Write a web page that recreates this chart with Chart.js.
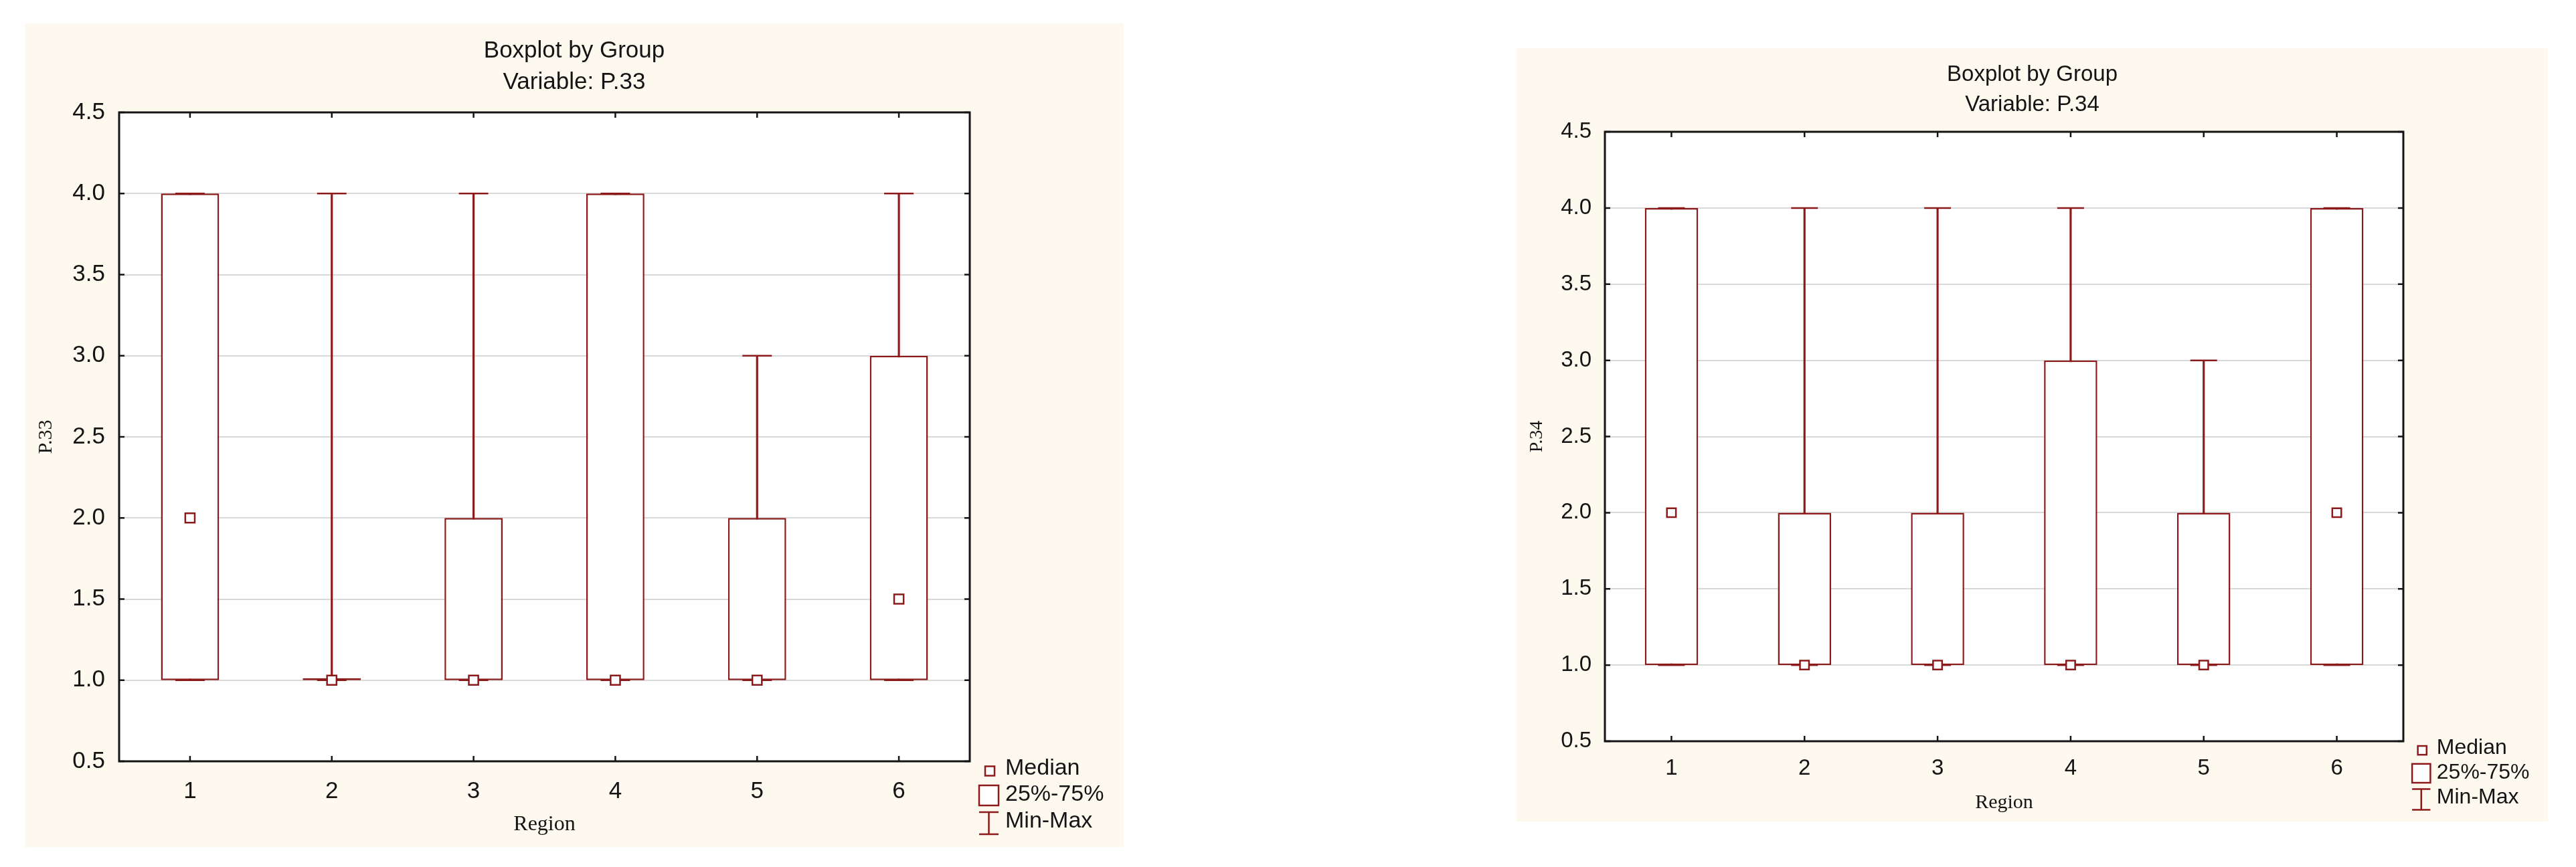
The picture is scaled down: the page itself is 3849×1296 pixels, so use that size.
<!DOCTYPE html>
<html>
<head>
<meta charset="utf-8">
<script src="https://cdn.jsdelivr.net/npm/chart.js@4.4.1/dist/chart.umd.min.js"></script>
<style>
html,body{margin:0;padding:0;background:#ffffff;width:3849px;height:1296px;overflow:hidden}
.panel{position:absolute;background:#fdf9ef}
#p1{left:37px;top:35px;width:1642px;height:1231px}
#p2{left:2266px;top:72px;width:1541px;height:1156px}
canvas{display:block}
</style>
</head>
<body>
<div class="panel" id="p1"><canvas id="c1" width="1642" height="1231"></canvas></div>
<div class="panel" id="p2"><canvas id="c2" width="1541" height="1156"></canvas></div>
<script>
// ---------- data ----------
const regions = ['1', '2', '3', '4', '5', '6'];
const yTickValues = [0.5, 1.0, 1.5, 2.0, 2.5, 3.0, 3.5, 4.0, 4.5];
const legendLabels = ['Median', '25%-75%', 'Min-Max'];

// Variable P.33
const p33Min    = [1, 1, 1, 1, 1, 1];
const p33Q1     = [1, 1, 1, 1, 1, 1];
const p33Median = [2, 1, 1, 1, 1, 1.5];
const p33Q3     = [4, 1, 2, 4, 2, 3];
const p33Max    = [4, 4, 4, 4, 3, 4];

// Variable P.34
const p34Min    = [1, 1, 1, 1, 1, 1];
const p34Q1     = [1, 1, 1, 1, 1, 1];
const p34Median = [2, 1, 1, 1, 1, 2];
const p34Q3     = [4, 2, 2, 3, 2, 4];
const p34Max    = [4, 4, 4, 4, 3, 4];

// ---------- styling ----------
const RED = '#8c1a1a';
const INK = '#141414';
const SANS = '"Liberation Sans", Arial, sans-serif';
const SERIF = '"Liberation Serif", "Times New Roman", serif';

const framePlugin = {
  id: 'frame',
  beforeDraw(chart) {
    const {ctx, chartArea: a} = chart;
    ctx.save();
    ctx.fillStyle = '#ffffff';
    ctx.fillRect(a.left, a.top, a.right - a.left, a.bottom - a.top);
    ctx.restore();
  },
  afterDatasetsDraw(chart, args, o) {
    const {ctx, chartArea: a} = chart;
    const x = chart.scales.x, y = chart.scales.y;
    ctx.save();
    ctx.strokeStyle = INK;
    ctx.lineWidth = o.tickWidth;
    ctx.beginPath();
    x.ticks.forEach((t, i) => {
      const px = x.getPixelForTick(i);
      ctx.moveTo(px, a.top); ctx.lineTo(px, a.top + o.tickLen);
      ctx.moveTo(px, a.bottom); ctx.lineTo(px, a.bottom - o.tickLen);
    });
    y.ticks.forEach((t, i) => {
      const py = y.getPixelForTick(i);
      ctx.moveTo(a.left, py); ctx.lineTo(a.left + o.tickLen, py);
      ctx.moveTo(a.right, py); ctx.lineTo(a.right - o.tickLen, py);
    });
    ctx.stroke();
    ctx.lineWidth = o.borderWidth;
    ctx.strokeRect(a.left, a.top, a.right - a.left, a.bottom - a.top);
    ctx.restore();
  }
};

const legendPlugin = {
  id: 'boxLegend',
  afterDraw(chart, args, o) {
    const {ctx, chartArea: a} = chart;
    const s = o.s;
    const x0 = a.right, y0 = a.bottom;
    ctx.save();
    ctx.strokeStyle = RED;
    ctx.lineWidth = 2.5;
    ctx.fillStyle = '#ffffff';
    // median symbol
    const m = 14 * s;
    ctx.fillRect(x0 + 30 * s - m / 2, y0 + 14.5 * s - m / 2, m, m);
    ctx.strokeRect(x0 + 30 * s - m / 2, y0 + 14.5 * s - m / 2, m, m);
    // box symbol
    ctx.fillRect(x0 + 14 * s, y0 + 36 * s, 29 * s, 30 * s);
    ctx.strokeRect(x0 + 14 * s, y0 + 36 * s, 29 * s, 30 * s);
    // min-max symbol
    ctx.beginPath();
    ctx.moveTo(x0 + 14 * s, y0 + 76 * s); ctx.lineTo(x0 + 43 * s, y0 + 76 * s);
    ctx.moveTo(x0 + 28.5 * s, y0 + 76 * s); ctx.lineTo(x0 + 28.5 * s, y0 + 109 * s);
    ctx.moveTo(x0 + 14 * s, y0 + 109 * s); ctx.lineTo(x0 + 43 * s, y0 + 109 * s);
    ctx.stroke();
    // labels
    ctx.fillStyle = INK;
    ctx.font = o.fontSize + 'px ' + SANS;
    ctx.textAlign = 'left';
    ctx.textBaseline = 'middle';
    const ty = [11, 50, 90];
    legendLabels.forEach((t, i) => ctx.fillText(t, x0 + 53 * s, y0 + ty[i] * s));
    ctx.restore();
  }
};

function makeChart(id, name, d, L) {
  return new Chart(document.getElementById(id), {
    type: 'bar',
    data: {
      labels: regions,
      datasets: [
        {
          type: 'line', label: 'Median', data: d.median, showLine: false,
          pointStyle: 'rect', pointRadius: L.medR, pointHoverRadius: L.medR,
          pointBackgroundColor: '#ffffff', pointBorderColor: RED, pointBorderWidth: 2.5, order: 0
        },
        {
          type: 'line', label: 'Max', data: d.max, showLine: false,
          pointStyle: 'line', pointRadius: L.capR, pointHoverRadius: L.capR,
          pointBorderColor: RED, pointBorderWidth: 2.5, order: 1
        },
        {
          type: 'line', label: 'Min', data: d.min, showLine: false,
          pointStyle: 'line', pointRadius: L.capR, pointHoverRadius: L.capR,
          pointBorderColor: RED, pointBorderWidth: 2.5, order: 1
        },
        {
          type: 'bar', label: '25%-75%', data: d.q1.map((v, i) => [v, d.q3[i]]),
          backgroundColor: '#ffffff', borderColor: RED, borderWidth: 2.5, borderSkipped: false,
          minBarLength: 3, barPercentage: L.boxPct, categoryPercentage: 1, grouped: false, order: 2
        },
        {
          type: 'bar', label: 'Min-Max', data: d.min.map((v, i) => [v, d.max[i]]),
          backgroundColor: RED, borderWidth: 0, barThickness: 2.5, grouped: false, order: 3
        }
      ]
    },
    options: {
      responsive: false,
      animation: false,
      devicePixelRatio: 1,
      layout: { padding: 0 },
      events: [],
      plugins: {
        legend: { display: false },
        tooltip: { enabled: false },
        title: {
          display: true,
          text: ['Boxplot by Group', 'Variable: ' + name],
          color: INK,
          font: { family: SANS, size: L.titleSize, weight: 'normal', lineHeight: L.titleLH + 'px' },
          padding: { top: L.titlePadTop, bottom: L.titlePadBottom }
        },
        frame: { tickLen: 8, tickWidth: 2.5, borderWidth: 3 },
        boxLegend: { s: L.legendS, fontSize: L.legendFont }
      },
      scales: {
        x: {
          type: 'category', offset: true,
          grid: { display: false },
          border: { display: false },
          ticks: { color: INK, font: { family: SANS, size: L.tickSize }, padding: L.xTickPad, maxRotation: 0, autoSkip: false },
          title: { display: true, text: 'Region', color: INK, font: { family: SERIF, size: L.xTitleSize }, padding: { top: 0, bottom: L.xTitlePad } },
          afterFit(s) { s.height = L.xAxisH; }
        },
        y: {
          type: 'linear', position: 'left', min: 0.5, max: 4.5,
          grid: { color: '#d9d9d9', lineWidth: 2, drawTicks: false },
          border: { display: false },
          ticks: { color: INK, font: { family: SANS, size: L.tickSize }, padding: L.yTickPad, callback: (v) => Number(v).toFixed(1) },
          afterBuildTicks(s) { s.ticks = yTickValues.map(v => ({ value: v })); },
          title: { display: true, text: name, color: INK, font: { family: SERIF, size: L.yTitleSize }, padding: { top: L.yTitlePad, bottom: 0 } },
          afterFit(s) { s.width = L.yAxisW; }
        },
        yRight: {
          type: 'linear', position: 'right', display: true,
          grid: { display: false, drawTicks: false },
          border: { display: false },
          ticks: { display: false },
          afterFit(s) { s.width = L.rightW; }
        }
      }
    },
    plugins: [framePlugin, legendPlugin]
  });
}

makeChart('c1', 'P.33',
  { min: p33Min, q1: p33Q1, median: p33Median, q3: p33Q3, max: p33Max },
  { titleSize: 35, titleLH: 47, titlePadTop: 18, titlePadBottom: 21, tickSize: 35, xTickPad: 16,
    xTitleSize: 32, xTitlePad: 14, xAxisH: 128, yTickPad: 21, yTitleSize: 30, yTitlePad: 14,
    yAxisW: 141, rightW: 230, medR: 10, capR: 22, boxPct: 0.41, legendS: 1, legendFont: 34 });

makeChart('c2', 'P.34',
  { min: p34Min, q1: p34Q1, median: p34Median, q3: p34Q3, max: p34Max },
  { titleSize: 33, titleLH: 45, titlePadTop: 17, titlePadBottom: 18, tickSize: 33, xTickPad: 13,
    xTitleSize: 30, xTitlePad: 10, xAxisH: 120, yTickPad: 20, yTitleSize: 28, yTitlePad: 14,
    yAxisW: 132, rightW: 216, medR: 9.5, capR: 20, boxPct: 0.40, legendS: 0.94, legendFont: 32 });
</script>
</body>
</html>
